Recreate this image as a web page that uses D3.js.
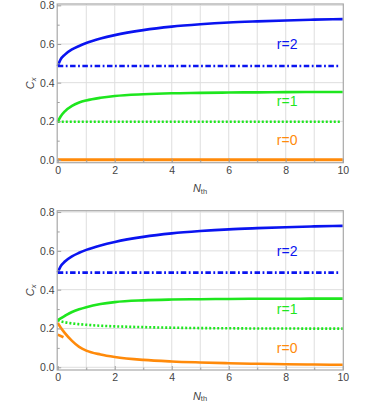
<!DOCTYPE html>
<html>
<head>
<meta charset="utf-8">
<script src="https://cdn.jsdelivr.net/npm/d3@7"></script>
<style>
  body { margin: 0; background: #fff; }
  svg { display: block; font-family: "Liberation Sans", Arial, sans-serif; }
</style>
</head>
<body>
<div id="wrapper"></div>
<script>
const nth = [0, 0.1, 0.25, 0.5, 0.75, 1, 1.5, 2, 3, 4, 5, 6, 7, 8, 9, 10];
const nthFlat = [0, 9.9];
const nthStub = [0, 0.2];

// top panel
const topBlueSolid = [0.486, 0.52, 0.545, 0.572, 0.59, 0.605, 0.628, 0.646, 0.672, 0.69, 0.702, 0.711, 0.717, 0.722, 0.726, 0.729];
const topBlueDashDot = [0.486, 0.486];
const topGreenSolid = [0.198, 0.225, 0.252, 0.28, 0.297, 0.308, 0.322, 0.331, 0.34, 0.345, 0.347, 0.349, 0.35, 0.351, 0.352, 0.352];
const topGreenDotted = [0.198, 0.198];
const topOrangeSolid = [0.001, 0.001];

// bottom panel
const botBlueSolid = [0.488, 0.52, 0.545, 0.572, 0.59, 0.605, 0.628, 0.646, 0.672, 0.69, 0.702, 0.711, 0.717, 0.722, 0.726, 0.729];
const botBlueDashDot = [0.488, 0.488];
const botGreenSolid = [0.243, 0.252, 0.265, 0.285, 0.299, 0.31, 0.326, 0.336, 0.345, 0.349, 0.351, 0.352, 0.353, 0.353, 0.354, 0.354];
const botGreenDotted = [0.243, 0.237, 0.232, 0.226, 0.222, 0.219, 0.214, 0.211, 0.207, 0.204, 0.202, 0.201, 0.2, 0.2, 0.199, 0.199];
const botOrangeSolid = [0.228, 0.205, 0.176, 0.136, 0.105, 0.086, 0.066, 0.053, 0.038, 0.03, 0.025, 0.021, 0.018, 0.016, 0.014, 0.013];
const botOrangeStub = [0.168, 0.155];

const xTicks = [0, 2, 4, 6, 8, 10];
const xMinor = [1, 3, 5, 7, 9];
const yTicks = [0, 0.2, 0.4, 0.6, 0.8];
const yMinor = [0.1, 0.3, 0.5, 0.7];
const labels = ["r=2", "r=1", "r=0"];
const labelX = [8.05, 8.05, 8.05];
const labelY = [0.574, 0.277, 0.075];

const colors = { blue: "#0a14f0", green: "#1ee61e", orange: "#ff8a0a" };

const width = 374;
const height = 402;

const wrapper = d3
  .select("#wrapper")
  .append("svg")
  .attr("width", width)
  .attr("height", height);

const xScale = d3.scaleLinear().domain([-0.02, 10.02]).range([57.2, 343.3]);

function drawPanel(top, bottom, series) {
  const yScale = d3.scaleLinear().domain([-0.014, 0.807]).range([bottom, top]);
  const g = wrapper.append("g");

  // grid
  g.append("g")
    .selectAll("line")
    .data(d3.range(1, 10))
    .join("line")
    .attr("x1", (d) => xScale(d))
    .attr("x2", (d) => xScale(d))
    .attr("y1", top)
    .attr("y2", bottom)
    .attr("stroke", "#dedede")
    .attr("stroke-width", 1);
  g.append("g")
    .selectAll("line")
    .data(yTicks)
    .join("line")
    .attr("x1", xScale.range()[0])
    .attr("x2", xScale.range()[1])
    .attr("y1", (d) => yScale(d))
    .attr("y2", (d) => yScale(d))
    .attr("stroke", "#dedede")
    .attr("stroke-width", 1);

  const line = d3
    .line()
    .x((d) => xScale(d[0]))
    .y((d) => yScale(d[1]))
    .curve(d3.curveMonotoneX);

  series.forEach((s) => {
    g.append("path")
      .datum(d3.zip(s.x, s.y))
      .attr("d", line)
      .attr("fill", "none")
      .attr("stroke", s.color)
      .attr("stroke-width", s.w || 2.6)
      .attr("stroke-dasharray", s.dash || null)
      .attr("stroke-linecap", "butt");
  });

  // labels
  const lblColors = [colors.blue, colors.green, colors.orange];
  g.append("g")
    .selectAll("text")
    .data(labels)
    .join("text")
    .attr("x", (d, i) => xScale(labelX[i]))
    .attr("y", (d, i) => yScale(labelY[i]))
    .attr("text-anchor", "middle")
    .attr("font-size", 14)
    .attr("fill", (d, i) => lblColors[i])
    .text((d) => d);

  // frame
  g.append("rect")
    .attr("x", xScale.range()[0])
    .attr("y", top)
    .attr("width", xScale.range()[1] - xScale.range()[0])
    .attr("height", bottom - top)
    .attr("fill", "none")
    .attr("stroke", "#a8a8a8")
    .attr("stroke-width", 1.2);

  g.append("g")
    .attr("transform", `translate(0,${bottom})`)
    .call(d3.axisBottom(xScale).tickValues(xTicks).tickSize(-4).tickPadding(4).tickFormat(d3.format("d")));
  g.append("g")
    .attr("transform", `translate(0,${bottom})`)
    .call(d3.axisBottom(xScale).tickValues(xMinor).tickSize(-2.5).tickFormat(""));
  g.append("g")
    .attr("transform", `translate(${xScale.range()[0]},0)`)
    .call(d3.axisLeft(yScale).tickValues(yTicks).tickSize(-4).tickPadding(2.5).tickFormat(d3.format(".1f")));
  g.append("g")
    .attr("transform", `translate(${xScale.range()[0]},0)`)
    .call(d3.axisLeft(yScale).tickValues(yMinor).tickSize(-2.5).tickFormat(""));

  g.selectAll(".domain").remove();
  g.selectAll(".tick line").attr("stroke", "#a0a0a0");
  g.selectAll(".tick text").attr("fill", "#444").attr("font-size", 10.5).attr("font-family", "Liberation Sans, Arial, sans-serif");

  // axis labels
  const yl = g
    .append("text")
    .attr("transform", `translate(34,${(top + bottom) / 2}) rotate(-90)`)
    .attr("text-anchor", "middle")
    .attr("fill", "#444")
    .attr("font-size", 11);
  yl.append("tspan").attr("font-style", "italic").text("C");
  yl.append("tspan").attr("font-size", 7.5).attr("font-style", "italic").attr("dy", 2).text("x");

  const xl = g
    .append("text")
    .attr("x", 200)
    .attr("y", bottom + 29.5)
    .attr("text-anchor", "middle")
    .attr("fill", "#444")
    .attr("font-size", 11);
  xl.append("tspan").attr("font-style", "italic").text("N");
  xl.append("tspan").attr("font-size", 7.5).attr("dy", 1.5).text("th");
}

drawPanel(4, 162.7, [
  { x: nth, y: topBlueSolid, color: colors.blue },
  { x: nthFlat, y: topBlueDashDot, color: colors.blue, dash: "5.5,2.5,1.8,2.5" },
  { x: nth, y: topGreenSolid, color: colors.green },
  { x: nthFlat, y: topGreenDotted, color: colors.green, dash: "2,2" },
  { x: [0, 10], y: topOrangeSolid, color: colors.orange, w: 3 },
]);

drawPanel(210.7, 370, [
  { x: nth, y: botBlueSolid, color: colors.blue },
  { x: nthFlat, y: botBlueDashDot, color: colors.blue, dash: "5.5,2.5,1.8,2.5" },
  { x: nth, y: botGreenSolid, color: colors.green },
  { x: nth, y: botGreenDotted, color: colors.green, dash: "2,2" },
  { x: nth, y: botOrangeSolid, color: colors.orange },
  { x: nthStub, y: botOrangeStub, color: colors.orange },
]);
</script>
</body>
</html>
